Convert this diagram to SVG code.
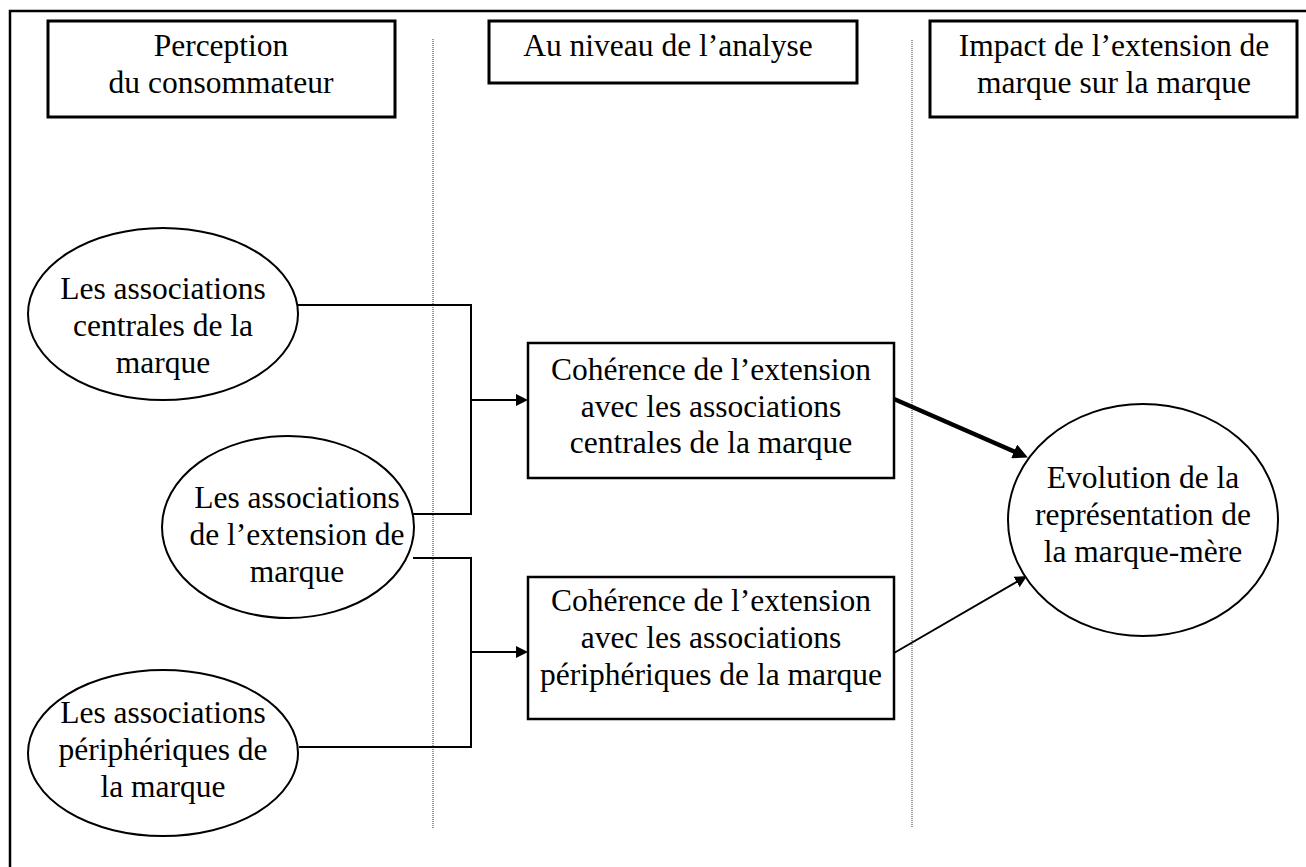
<svg xmlns="http://www.w3.org/2000/svg" width="1306" height="867" viewBox="0 0 1306 867" font-family="'Liberation Serif', 'Times New Roman', Times, 'DejaVu Serif', serif">
<style>
text{font-family:'Liberation Serif','Times New Roman',Times,'DejaVu Serif',serif;font-size:31.5px;fill:#000;text-anchor:middle}
.box{fill:#fff;stroke:#000;stroke-width:2.5}
.hdr{fill:#fff;stroke:#000;stroke-width:3}
.ell{fill:#fff;stroke:#000;stroke-width:2}
.sep{stroke:#333;stroke-width:1;stroke-dasharray:1 1;fill:none}
.con{fill:none;stroke:#000;stroke-width:2}
.thick{fill:none;stroke:#000;stroke-width:4.5}
</style>
<defs>
<marker id="arr" markerUnits="userSpaceOnUse" markerWidth="12" markerHeight="12" refX="4" refY="6" orient="auto">
<path d="M0,0 L12,6 L0,12 z" fill="#000"/>
</marker>
<marker id="arrL" markerUnits="userSpaceOnUse" markerWidth="15" markerHeight="15" refX="5" refY="7.5" orient="auto">
<path d="M0,0 L15,7.5 L0,15 z" fill="#000"/>
</marker>
</defs>
<rect width="1306" height="867" fill="#fff"/>
<rect x="10" y="11" width="1320" height="880" fill="none" stroke="#000" stroke-width="2.5"/>
<g id="separators">
<line class="sep" x1="433" y1="39" x2="433" y2="828"/>
<line class="sep" x1="912" y1="40" x2="912" y2="828"/>
</g>
<g id="hdr-perception">
<rect class="hdr" x="48" y="21" width="347" height="96"/>
<text x="221" y="56">Perception</text>
<text x="221" y="93">du consommateur</text>
</g>
<g id="hdr-analyse">
<rect class="hdr" x="489" y="21" width="368" height="62"/>
<text x="668" y="56">Au niveau de l’analyse</text>
</g>
<g id="hdr-impact">
<rect class="hdr" x="930" y="21" width="367" height="96"/>
<text x="1114" y="56">Impact de l’extension de</text>
<text x="1114" y="93">marque sur la marque</text>
</g>
<g id="connectors">
<path class="con" d="M298,305 H471 V514 H413"/>
<path class="con" d="M471,400 H520" marker-end="url(#arr)"/>
<path class="con" d="M413,558 H471 V747 H299"/>
<path class="con" d="M471,652 H520" marker-end="url(#arr)"/>
<path class="thick" d="M894,399 L1018.7,453.4" marker-end="url(#arrL)"/>
<path class="con" d="M894,653 L1020.1,580" marker-end="url(#arr)"/>
</g>
<g id="ell-centrales">
<ellipse class="ell" cx="163" cy="314" rx="135" ry="86"/>
<text x="163" y="299">Les associations</text>
<text x="163" y="336">centrales de la</text>
<text x="163" y="373">marque</text>
</g>
<g id="ell-extension">
<ellipse class="ell" cx="288" cy="527" rx="126" ry="91"/>
<text x="297" y="508">Les associations</text>
<text x="297" y="545">de l’extension de</text>
<text x="297" y="582">marque</text>
</g>
<g id="ell-peripheriques">
<ellipse class="ell" cx="163" cy="753" rx="135" ry="83"/>
<text x="163" y="723">Les associations</text>
<text x="163" y="760">périphériques de</text>
<text x="163" y="797">la marque</text>
</g>
<g id="box-centrales">
<rect class="box" x="528" y="343" width="366" height="135"/>
<text x="711" y="380">Cohérence de l’extension</text>
<text x="711" y="417">avec les associations</text>
<text x="711" y="453">centrales de la marque</text>
</g>
<g id="box-peripheriques">
<rect class="box" x="528" y="577" width="366" height="142"/>
<text x="711" y="611">Cohérence de l’extension</text>
<text x="711" y="648">avec les associations</text>
<text x="711" y="685">périphériques de la marque</text>
</g>
<g id="ell-evolution">
<ellipse class="ell" cx="1143" cy="520" rx="135" ry="116"/>
<text x="1143" y="488">Evolution de la</text>
<text x="1143" y="525">représentation de</text>
<text x="1143" y="562">la marque-mère</text>
</g>
</svg>
